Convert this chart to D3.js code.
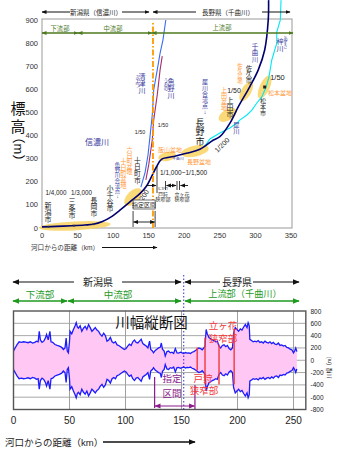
<!DOCTYPE html>
<html><head><meta charset="utf-8">
<script src="https://cdn.jsdelivr.net/npm/d3@7"></script>
<style>
body{margin:0;background:#fff}
svg{display:block}
text{font-family:"Liberation Sans","Noto Sans CJK JP",sans-serif}
</style>
</head><body>
<svg id="c" width="340" height="452"></svg>
<script>
// ===== DATA: elevation profile (distance from river mouth in km, elevation in m) =====
const mainKm    = [0, 20, 42, 60, 72, 85, 96, 110, 124, 138, 147, 154, 161, 168, 185, 203, 222, 241, 250, 264, 276, 292, 304, 313, 318, 318.5];
const mainElev  = [5, 7, 10, 13, 16, 28, 46, 78, 114, 150, 182, 222, 265, 297, 309, 323, 341, 381, 395, 453, 525, 611, 684, 770, 900, 986];
const saiKm     = [228, 236, 250, 264, 274, 278, 288, 295, 302, 309, 315, 319, 323, 330, 330, 335, 336];
const saiElev   = [350, 385, 411, 433, 454, 467, 489, 510, 541, 567, 610, 653, 727, 800, 848, 900, 986];
const kiyoKm    = [139, 145, 149, 152, 155, 156, 157, 162, 166, 170, 174];
const kiyoElev  = [177, 242, 316, 402, 489, 540, 597, 684, 757, 813, 900];
const uonoKm    = [146, 150, 155, 157, 162, 166, 169];
const uonoElev  = [208, 273, 381, 467, 576, 684, 744];
const basinNames = ["新潟平野", "十日町盆地", "飯山盆地", "長野盆地", "上田盆地", "佐久盆地", "松本盆地"];
const basinKm    = [46, 128, 176, 215, 261, 287, 313];
const basinElev  = [9, 134, 309, 333, 489, 591, 610];
const prefBoundaryKm = 156;
const elevTicks = [0, 100, 200, 300, 400, 500, 600, 700, 800, 900];
const distTicksTop = [0, 50, 100, 150, 200, 250, 300, 350];

// ===== DATA: river width profile (km, half width in m, drawn as +/-) =====
const widthKm = [0,1.5,3,5,7,9,11,13,15,17,19,20.5,22,23,24,25.5,27,28.5,29.5,31,32.5,33.5,35,37,39,41,43,44.5,46,47,48,49,50,50.5,52,53.5,55,56,57,58,59.5,61,62.5,64,65.5,67,68.5,70,71.5,73,74.5,76,77.5,79,80.5,82,83.5,85,86.5,88,89.5,91,92.5,94,95.5,97,99,100.5,102,103.5,105,106.5,108,109.5,111,112.5,114,115.5,117,118.5,120,121.5,122.5,124,125,126.5,128,129.5,131,132,133,134.5,135.5,137,138.5,140,141.5,143,144.5,146,147.5,149,150.5,152,153.5,155,156.5,158,159.5,161,162.5,164,165.5,167,168.5,170,171,172,173,174.5,176,177.5,179,180.5,182,183.5,185,186.5,188,189.5,191,192.5,194,195.5,196.5,198,199.5,201,202.5,204,205.5,207,208.5,209.5,210.5,211,212.5,214,215.5,217,218.5,220,221.5,223,224.5,226,227.5,229,230.5,232,233.5,235,236.5,238,239.5,241,242.5,244,245.5,247,248.5,250,251,252,253];
const widthHalf = [150,200,250,300,290,300,295,285,300,280,290,310,300,470,330,290,310,360,420,330,470,300,290,255,240,230,210,175,200,360,150,120,300,470,430,500,560,610,540,520,560,470,520,550,500,580,530,470,500,530,490,470,420,390,440,400,310,330,370,300,280,300,250,240,220,200,175,190,230,260,240,300,330,290,280,310,340,270,250,230,200,310,175,150,120,160,180,200,210,280,180,150,70,140,150,120,130,110,190,120,115,130,120,110,125,115,120,110,130,140,160,180,200,190,170,200,230,500,430,370,350,330,320,300,310,230,200,240,250,220,240,190,170,200,440,530,500,470,510,490,540,580,530,610,560,340,320,300,310,300,320,290,300,280,310,290,280,300,270,290,260,255,280,240,250,230,240,210,200,180,170,120,150,200,140];
const narrowKm     = [164, 171, 183.5, 197];
const narrowTop    = [206, 368, 255, 498];
const narrowBottom = [-167, -394, -394, -394];
const widthTicks = [800, 600, 400, 200, 0, -200, -400, -600, -800];
const distTicksBottom = [0, 50, 100, 150, 200, 250];

// ===== DRAWING =====
const svg = d3.select("#c");
svg.append("rect").attr("width",340).attr("height",452).attr("fill","#fff");
const defs = svg.append("defs");
function mk(id, color, size){
  defs.append("marker").attr("id",id).attr("viewBox","0 0 10 10").attr("refX",9).attr("refY",5)
    .attr("markerWidth",size).attr("markerHeight",size).attr("markerUnits","userSpaceOnUse")
    .attr("orient","auto-start-reverse")
    .append("path").attr("d","M0,1L10,5L0,9z").attr("fill",color);
}
const GT = "#4d7a1f", GB = "#1f9a1f", NAVY = "#000070", TN = "#3b3b9e", OR = "#ff9a3c", RED = "#f23a3a", PUR = "#8b1a8b";
mk("ak", "#111", 5); mk("ag", GT, 5); mk("ak2", "#111", 7); mk("ag2", GB, 7); mk("ap", PUR, 6);

function line(g, x1, y1, x2, y2, color, w, ms, me, dash){
  const l = g.append("line").attr("x1",x1).attr("y1",y1).attr("x2",x2).attr("y2",y2)
    .attr("stroke",color).attr("stroke-width",w);
  if (ms) l.attr("marker-start",`url(#${ms})`);
  if (me) l.attr("marker-end",`url(#${me})`);
  if (dash) l.attr("stroke-dasharray",dash);
  return l;
}
function htext(g, s, x, y, size, color, anchor){
  return g.append("text").attr("x",x).attr("y",y).attr("font-size",size).attr("fill",color)
    .attr("text-anchor",anchor||"middle").attr("dominant-baseline","central").text(s);
}
function vtext(g, s, x, y0, size, color, step){
  step = step || size;
  [...s].forEach((ch,i)=> g.append("text").attr("x",x).attr("y",y0+i*step)
    .attr("text-anchor","middle").attr("dominant-baseline","central")
    .attr("font-size",size).attr("fill",color).text(ch));
}
function rtext(g, s, x, y, ang, size, color){
  return g.append("text").attr("transform",`translate(${x},${y}) rotate(${ang})`)
    .attr("text-anchor","middle").attr("dominant-baseline","central")
    .attr("font-size",size).attr("fill",color).text(s);
}

// ---------- TOP CHART ----------
const xT = d3.scaleLinear().domain([0,350]).range([42,291]);
const yT = d3.scaleLinear().domain([0,900]).range([228,20]);
const gTop = svg.append("g");
gTop.append("rect").attr("x",xT(0)).attr("y",yT(900)-1).attr("width",292-xT(0)).attr("height",yT(0)-yT(900)+1)
  .attr("fill","none").attr("stroke","#999").attr("stroke-width",1);

elevTicks.forEach(v=> htext(gTop, v, 38, yT(v), 7.5, "#333", "end"));
distTicksTop.forEach(v=> htext(gTop, v, xT(v), 235, 7.5, "#333"));

const basinShape = {"新潟平野":[36,4.5,-3],"十日町盆地":[11,6,-45],"飯山盆地":[9,4.5,-10],"長野盆地":[14,5.5,-12],
  "上田盆地":[10,5.5,-30],"佐久盆地":[5,11,30],"松本盆地":[5,12.5,25]};
basinNames.forEach((n,i)=>{
  const [rx,ry,rot] = basinShape[n];
  const cx = xT(basinKm[i]), cy = yT(basinElev[i]);
  gTop.append("ellipse").attr("cx",cx).attr("cy",cy).attr("rx",rx).attr("ry",ry)
    .attr("transform",`rotate(${rot},${cx},${cy})`).attr("fill","#f9d262").attr("opacity",0.85);
});

const zip = (a,b)=> a.map((v,i)=>[v,b[i]]);
const lineT = d3.line().x(d=>xT(d[0])).y(d=>yT(d[1]));
gTop.append("path").datum(zip(saiKm,saiElev)).attr("d",lineT).attr("fill","none").attr("stroke","#00e8f4").attr("stroke-width",1.1);
gTop.append("path").datum(zip(uonoKm,uonoElev)).attr("d",lineT).attr("fill","none").attr("stroke","#a3306e").attr("stroke-width",1.1);
gTop.append("path").datum(zip(kiyoKm,kiyoElev)).attr("d",lineT).attr("fill","none").attr("stroke","#3a6cf0").attr("stroke-width",1.1);
const lineMain = d3.line().x(d=>xT(d[0])).y(d=>yT(d[1])).curve(d3.curveCatmullRom.alpha(0.5));
gTop.append("path").datum(zip(mainKm,mainElev)).attr("d",lineMain).attr("fill","none").attr("stroke",NAVY).attr("stroke-width",1.6);
[[9,5],[45,10],[72,16]].forEach(d=> gTop.append("circle").attr("cx",xT(d[0])).attr("cy",yT(d[1])).attr("r",1).attr("fill","#333"));
gTop.append("rect").attr("x",xT(313)-1.5).attr("y",yT(610)-1.5).attr("width",3).attr("height",3).attr("fill","#222");

line(gTop, xT(prefBoundaryKm), yT(0), xT(prefBoundaryKm), 21, "#ff9900", 1.8, null, null, "6,2,1.5,2");

line(gTop, 42, 12, 70, 12, "#111", 1, "ak", null);
htext(gTop, "新潟県（信濃川）", 96, 12, 6.5, "#222");
line(gTop, 122, 12, 149, 12, "#111", 1, null, "ak");
line(gTop, 153, 12, 196, 12, "#111", 1, "ak", null);
htext(gTop, "長野県（千曲川）", 228, 12, 6.5, "#222");
line(gTop, 262, 12, 290, 12, "#111", 1, null, "ak");
line(gTop, 42, 33, 78, 33, GT, 1.3, "ag", "ag");
line(gTop, 78, 33, 152, 33, GT, 1.3, "ag", "ag");
line(gTop, 152, 33, 293, 33, GT, 1.3, "ag", "ag");
htext(gTop, "下流部", 60, 28, 6.3, GT);
htext(gTop, "中流部", 113, 28, 6.3, GT);
htext(gTop, "上流部", 222, 27.5, 6.3, GT);

htext(gTop, "標", 18, 108, 15, "#111");
htext(gTop, "高", 18, 126, 15, "#111");
rtext(gTop, "（m）", 18, 149, 90, 13, "#111");

vtext(gTop, "新潟市", 48, 205.5, 7, "#222");
vtext(gTop, "三条市", 72, 201.5, 7, "#222");
vtext(gTop, "長岡市", 94, 200, 6.8, "#222");
vtext(gTop, "小千谷市", 110, 188.5, 7, "#222", 6.8);
vtext(gTop, "魚野川合流点↓", 117.5, 165, 5.4, TN, 5.2);
vtext(gTop, "十日町盆地", 123.5, 161.5, 6.3, OR, 6);
vtext(gTop, "六日町盆地", 129.5, 150, 6, OR, 5.6);
vtext(gTop, "十日町市", 137.5, 160, 6.8, "#222");
vtext(gTop, "清津川", 142, 76, 7, TN);
vtext(gTop, "きよつ", 137.3, 77, 4.3, TN);
vtext(gTop, "魚野川", 171, 81, 7, TN);
vtext(gTop, "うおの", 166, 80, 4.3, TN);
vtext(gTop, "犀川合流点↓", 205, 82, 6, TN, 6);
vtext(gTop, "長野市", 200, 122.5, 9, "#111", 9.6);
vtext(gTop, "上田盆地", 224, 90, 6, OR);
vtext(gTop, "上田市", 230, 100, 7, "#222");
vtext(gTop, "佐久盆地", 240, 65.5, 5.3, OR);
vtext(gTop, "佐久市", 249, 68, 6.3, "#222");
vtext(gTop, "犀川", 236.5, 125, 6.3, TN);
vtext(gTop, "千曲川", 255, 46, 6.5, TN);
vtext(gTop, "松本市", 263, 101, 6, "#222");
vtext(gTop, "梓川", 280, 41, 7, TN);
vtext(gTop, "あずさ", 285.5, 38, 4.3, TN);

htext(gTop, "信濃川", 97, 142, 8, TN);
htext(gTop, "1/4,000", 56, 192, 6.3, "#222");
htext(gTop, "1/3,000", 81.5, 192, 6.3, "#222");
htext(gTop, "1/50", 140, 131.5, 5.3, "#222");
htext(gTop, "1/50", 163, 125, 5.3, "#222");
htext(gTop, "飯山盆地", 170, 150, 6, OR);
htext(gTop, "千曲川", 178, 158.5, 3.8, TN);
htext(gTop, "長野盆地", 199, 162, 6, OR);
htext(gTop, "1/1,000~1/1,500", 160, 172, 6.5, "#222", "start");
htext(gTop, "1/50", 234, 90.5, 7, "#222");
htext(gTop, "1/50", 277.5, 77, 7.5, "#222");
htext(gTop, "松本盆地", 280, 93, 6, OR);
rtext(gTop, "1/200", 142.5, 197.5, -58, 7, "#222");
rtext(gTop, "1/200", 222, 145, -45, 7, "#222");

line(gTop, 157, 166, 157, 193, "#111", 0.8);
line(gTop, 146, 185.5, 156, 185.5, "#111", 0.9, null, "ak");
line(gTop, 165.5, 181, 165.5, 190, "#111", 0.8);
line(gTop, 172, 185.5, 166.5, 185.5, "#111", 0.9, null, "ak");
line(gTop, 170, 185.5, 176, 185.5, "#111", 0.9, null, "ak");
line(gTop, 177, 181, 177, 190, "#111", 0.8);
line(gTop, 179.5, 181, 179.5, 190, "#111", 0.8);
line(gTop, 188, 185.5, 180.5, 185.5, "#111", 0.9, null, "ak");
htext(gTop, "とがり", 163, 188.8, 3.6, "#222");
htext(gTop, "戸狩", 163, 193.8, 5, "#222");
htext(gTop, "狭窄部", 163, 199.3, 5, "#222");
htext(gTop, "立ヶ花", 182, 193.8, 5, "#222");
htext(gTop, "狭窄部", 182, 199.3, 5, "#222");

const desT = [128, 159];
gTop.append("rect").attr("x",xT(desT[0])).attr("y",200).attr("width",xT(desT[1])-xT(desT[0])).attr("height",9)
  .attr("fill","#fff").attr("stroke","#333").attr("stroke-width",0.7);
htext(gTop, "指定区間", (xT(desT[0])+xT(desT[1]))/2, 204.7, 6, "#222");
line(gTop, xT(desT[0]), 211, xT(desT[0]), 227, "#111", 0.8);
line(gTop, xT(desT[1]), 211, xT(desT[1]), 227, "#111", 0.8);
line(gTop, xT(desT[0])+0.5, 222, xT(desT[1])-0.5, 222, "#111", 0.9, "ak", "ak");

htext(gTop, "河口からの距離（km）", 31, 247.5, 6.6, "#333", "start");
line(gTop, 102, 247.5, 157, 247.5, "#111", 1.2, null, "ak");

// ---------- BOTTOM CHART ----------
const xB = d3.scaleLinear().domain([0,250]).range([13.5,293.5]);
const yB = d3.scaleLinear().domain([-800,800]).range([409.5,311]);
const gBot = svg.append("g");
widthTicks.filter(v=>Math.abs(v)<800).forEach(v=> line(gBot, xB(0), yB(v), xB(261), yB(v), "#a8a8a8", 1));
distTicksBottom.filter(v=>v>0).forEach(v=> line(gBot, xB(v), yB(-800), xB(v), yB(800), "#a0a0a0", 1));
const wd = zip(widthKm, widthHalf);
gBot.append("path").datum(wd).attr("d", d3.area().x(d=>xB(d[0])).y0(d=>yB(-d[1])).y1(d=>yB(d[1])))
  .attr("fill","#ffc8f4");
const lu = d3.line().x(d=>xB(d[0])).y(d=>yB(d[1]));
const ll = d3.line().x(d=>xB(d[0])).y(d=>yB(-d[1]));
gBot.append("path").datum(wd).attr("d",lu).attr("fill","none").attr("stroke","#1c1cff").attr("stroke-width",1.3);
gBot.append("path").datum(wd).attr("d",ll).attr("fill","none").attr("stroke","#1c1cff").attr("stroke-width",1.3);
gBot.append("rect").attr("x",xB(0)).attr("y",yB(800)).attr("width",xB(261)-xB(0)).attr("height",yB(-800)-yB(800))
  .attr("fill","none").attr("stroke","#555").attr("stroke-width",1.4);
narrowKm.forEach((k,i)=> line(gBot, xB(k), yB(narrowTop[i]), xB(k), yB(narrowBottom[i]), RED, 1.4));
line(gBot, xB(152), 275, xB(152), yB(-800), "#3030c0", 1, null, null, "1.5,2");
const desB = [126, 162];
line(gBot, xB(desB[0]), 377, xB(desB[0]), 408, PUR, 1.2);
line(gBot, xB(desB[1]), 385, xB(desB[1]), 409, PUR, 1.2);
line(gBot, xB(desB[0])+0.5, 406, xB(desB[1])-0.5, 406, PUR, 1.2, "ap", "ap");
htext(gBot, "指定", 172, 378, 9.5, PUR);
htext(gBot, "区間", 172, 393, 9.5, PUR);
htext(gBot, "立ヶ花", 223, 325, 9.5, RED);
htext(gBot, "狭窄部", 223, 338, 9.5, RED);
htext(gBot, "戸狩", 203, 378, 9.5, RED);
htext(gBot, "狭窄部", 204, 390, 9.5, RED);
htext(gBot, "川幅縦断図", 151.5, 323, 14.5, "#111");
line(gBot, 13, 282, 74, 282, "#111", 1.2, "ak2", null);
htext(gBot, "新潟県", 98, 282, 10, "#222");
line(gBot, 122, 282, 181, 282, "#111", 1.2, null, "ak2");
line(gBot, 185, 282, 220, 282, "#111", 1.2, "ak2", null);
htext(gBot, "長野県", 237, 282, 10, "#222");
line(gBot, 253, 282, 299, 282, "#111", 1.2, null, "ak2");
line(gBot, 13, 301, 67, 301, GB, 1.3, "ag2", "ag2");
line(gBot, 68, 301, 181, 301, GB, 1.3, "ag2", "ag2");
line(gBot, 185, 301, 299, 301, GB, 1.3, "ag2", "ag2");
htext(gBot, "下流部", 40, 294, 9.5, GB);
htext(gBot, "中流部", 118, 294, 9.5, GB);
htext(gBot, "上流部（千曲川）", 245, 294, 9.2, GB);
distTicksBottom.forEach(v=> gBot.append("text").attr("x",xB(v)).attr("y",424).attr("text-anchor","middle")
  .attr("font-size",10).attr("fill","#222").text(v));
widthTicks.forEach(v=> htext(gBot, v, 310.5, yB(v), 6.5, "#222", "start"));
rtext(gBot, "川幅（m）", 329, 366, -90, 6, "#222").attr("textLength",25).attr("lengthAdjust","spacingAndGlyphs");
htext(gBot, "河口からの距離（km）", 5, 442, 9.5, "#222", "start");
line(gBot, 103, 442, 195, 442, "#111", 1.4, null, "ak2");
</script>
</body></html>
